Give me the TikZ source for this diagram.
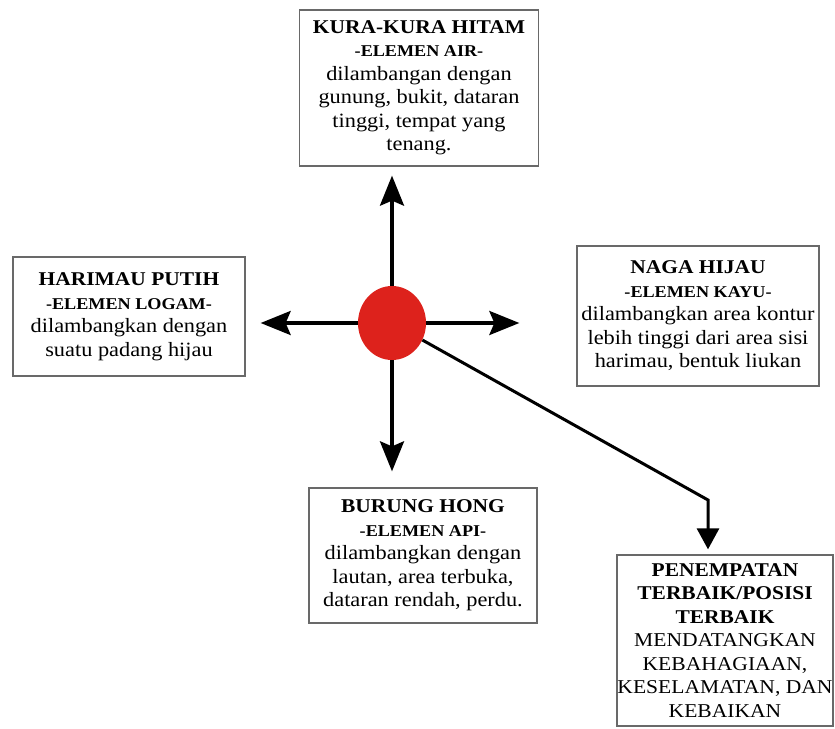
\documentclass[tikz,border=0pt]{standalone}
\usepackage{fontspec}
\setmainfont{Liberation Serif}[FakeStretch=1.1]
\usetikzlibrary{arrows.meta,shapes.geometric}
\definecolor{merah}{RGB}{221,34,28}
\definecolor{garis}{RGB}{105,105,105}
\newcommand{\judul}[1]{{\fontsize{19.5}{23.5}\selectfont\bfseries #1}}
\newcommand{\unsur}[1]{{\fontsize{16.5}{23.5}\selectfont\bfseries #1}}

\begin{document}
\begin{tikzpicture}[x=1pt,y=-1pt,
  kotak/.style={draw=garis,line width=1.3pt,rectangle,align=center,inner sep=0pt,font=\fontsize{20.3}{23.5}\selectfont},
  panah/.style={-{Stealth[length=30pt,width=24pt,inset=5pt]},line width=3.4pt},
  panahposisi/.style={-{Triangle[length=21pt,width=22pt]},line width=3pt},
  titik/.style={ellipse,fill=merah,minimum width=68pt,minimum height=74pt,inner sep=0pt}]
  \useasboundingbox (0,0) rectangle (835,728);
  \node[titik] (pusat) at (392,323) {};
  \node[kotak,minimum width=239pt,minimum height=156pt] (air) at (419,88)
    {\judul{KURA-KURA HITAM}\\ \unsur{-ELEMEN AIR-}\\ dilambangan dengan\\ gunung, bukit, dataran\\ tinggi, tempat yang\\ tenang.};
  \node[kotak,minimum width=232pt,minimum height=119pt] (logam) at (129,316.5)
    {\judul{HARIMAU PUTIH}\\ \unsur{-ELEMEN LOGAM-}\\ dilambangkan dengan\\ suatu padang hijau};
  \node[kotak,minimum width=242pt,minimum height=140pt] (kayu) at (698,316)
    {\judul{NAGA HIJAU}\\ \unsur{-ELEMEN KAYU-}\\ dilambangkan area kontur\\ lebih tinggi dari area sisi\\ harimau, bentuk liukan};
  \node[kotak,minimum width=228pt,minimum height=135pt] (api) at (423,555.5)
    {\judul{BURUNG HONG}\\ \unsur{-ELEMEN API-}\\ dilambangkan dengan\\ lautan, area terbuka,\\ dataran rendah, perdu.};
  \node[kotak,minimum width=216pt,minimum height=171pt,font=\fontsize{19.6}{23.5}\selectfont] (posisi) at (725,640.5)
    {\judul{PENEMPATAN}\\ \judul{TERBAIK/POSISI}\\ \judul{TERBAIK}\\ MENDATANGKAN\\ KEBAHAGIAAN,\\ KESELAMATAN, DAN\\ KEBAIKAN};
  % empat arah dari titik pusat
  \draw[panah,shorten >=9pt] (pusat.north) -- (pusat |- air.south);
  \draw[panah,shorten >=15pt] (pusat.west) -- (pusat -| logam.east);
  \draw[panah,shorten >=57pt] (pusat.east) -- (pusat -| kayu.west);
  \draw[panah,shorten >=16pt] (pusat.south) -- (pusat |- api.north);
  % ke posisi terbaik
  \coordinate (belok) at (708,500);
  \draw[panahposisi,shorten >=5pt] (pusat) -- (belok) -- (belok |- posisi.north);
\end{tikzpicture}
\end{document}
